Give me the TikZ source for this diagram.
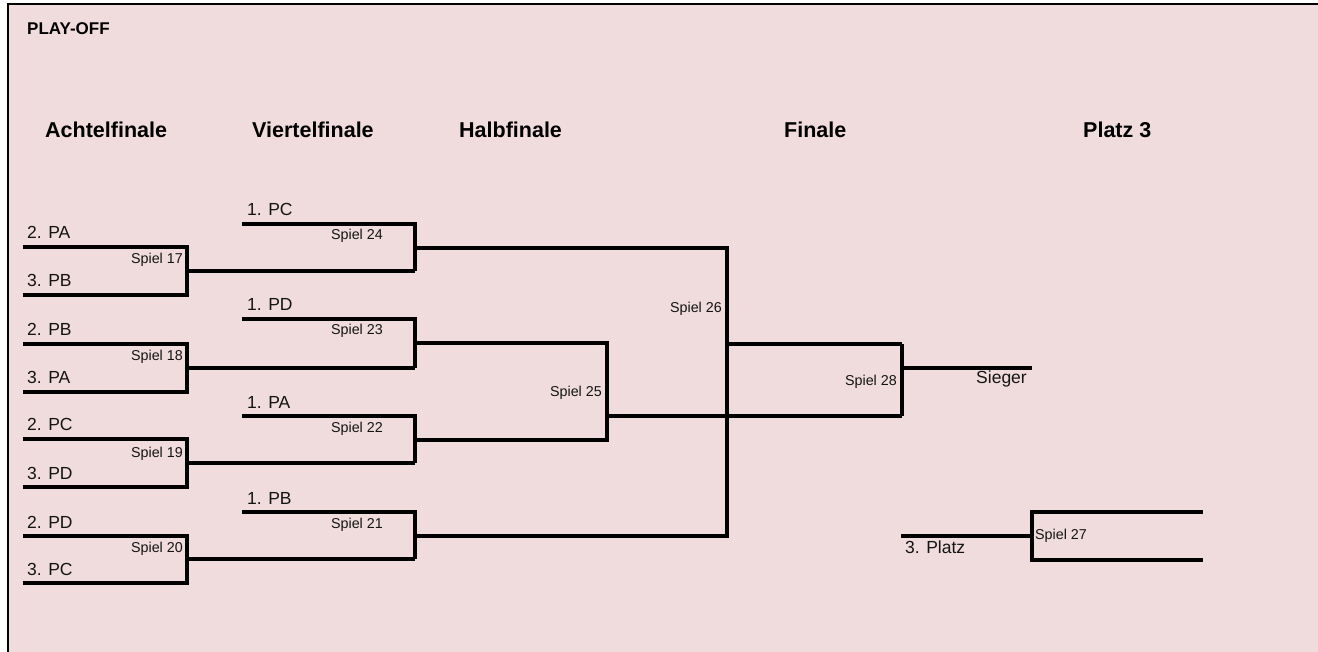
\documentclass[tikz,border=0pt]{standalone}
\usepackage{fontspec}
\setmainfont{Liberation Sans}
\definecolor{bgpink}{RGB}{240,220,220}
\definecolor{ink}{RGB}{20,20,20}
\begin{document}
\begin{tikzpicture}[x=1pt,y=-1pt,
  bline/.style={line width=3.4pt,line cap=butt,line join=miter},
  frame/.style={line width=2.2pt},
  team/.style={inner sep=0pt,text=ink,font=\fontsize{17.5}{20}\selectfont},
  game/.style={inner sep=0pt,text=ink,font=\fontsize{14.3}{16}\selectfont},
  head/.style={inner sep=0pt,anchor=base west,font=\fontsize{21.5}{24}\selectfont\bfseries},
  ttl/.style={inner sep=0pt,anchor=base west,font=\fontsize{17}{20}\selectfont\bfseries}]
\useasboundingbox (0,0) rectangle (1318,652);
\fill[white] (0,0) rectangle (1318,652);
\fill[bgpink] (8,4) rectangle (1318,652);
\draw[frame] (8,652) -- (8,4) -- (1318,4);

% titles
\node[ttl] (title) at (27,35) {PLAY-OFF};
\node[head] (h1) at (45,138) {Achtelfinale};
\node[head] (h2) at (252,138) {Viertelfinale};
\node[head] (h3) at (459,138) {Halbfinale};
\node[head] (h4) at (784,138) {Finale};
\node[head] (h5) at (1083,138) {Platz 3};

% Achtelfinale coordinates
\foreach \n/\ya/\yb/\ym in {17/247/295/271, 18/344/392/368, 19/439/487/463, 20/536/583/559}{
  \coordinate (a\n t) at (23,\ya);
  \coordinate (a\n b) at (23,\yb);
  \coordinate (c\n t) at (187,\ya);
  \coordinate (c\n b) at (187,\yb);
  \coordinate (m\n) at (187,\ym);
}
% Viertelfinale coordinates
\foreach \n/\yt/\yb/\yo in {24/224/271/248, 23/319/368/343, 22/416/463/440, 21/512/559/536}{
  \coordinate (v\n t) at (242,\yt);
  \coordinate (w\n t) at (415,\yt);
  \coordinate (w\n b) at (415,\yb);
  \coordinate (o\n) at (415,\yo);
}
\coordinate (h25t) at (607,343);
\coordinate (h25b) at (607,440);
\coordinate (h25o) at (607,416);
\coordinate (h26t) at (727,248);
\coordinate (h26b) at (727,536);
\coordinate (h26o) at (727,344);
\coordinate (f28t) at (902,344);
\coordinate (f28b) at (902,416);
\coordinate (f28o) at (902,368);
\coordinate (sieg) at (1032,368);
\coordinate (p3s) at (901,536);
\coordinate (p27m) at (1032,536);
\coordinate (p27t) at (1032,512);
\coordinate (p27b) at (1032,560);
\coordinate (p27te) at (1203,512);
\coordinate (p27be) at (1203,560);

% Achtelfinale brackets
\draw[bline] (a17t) -- (c17t) -- (c17b) -- (a17b);
\draw[bline] (a18t) -- (c18t) -- (c18b) -- (a18b);
\draw[bline] (a19t) -- (c19t) -- (c19b) -- (a19b);
\draw[bline] (a20t) -- (c20t) -- (c20b) -- (a20b);
\draw[bline] (m17) -- (w24b);
\draw[bline] (m18) -- (w23b);
\draw[bline] (m19) -- (w22b);
\draw[bline] (m20) -- (w21b);
% Viertelfinale brackets
\draw[bline] (v24t) -- (w24t) -- (w24b);
\draw[bline] (v23t) -- (w23t) -- (w23b);
\draw[bline] (v22t) -- (w22t) -- (w22b);
\draw[bline] (v21t) -- (w21t) -- (w21b);
% Halbfinale
\draw[bline] (o24) -- (h26t) -- (h26b) -- (o21);
\draw[bline] (o23) -- (h25t) -- (h25b) -- (o22);
\draw[bline] (h25o) -- (f28b);
\draw[bline] (h26o) -- (f28t);
% Finale
\draw[bline] (f28t) -- (f28b);
\draw[bline] (f28o) -- (sieg);
% Platz 3
\draw[bline] (p3s) -- (p27m);
\draw[bline] (p27te) -- (p27t) -- (p27b) -- (p27be);

% team labels
\node[team,anchor=base west] (t1) at (27,239) {2. PA};
\node[team,anchor=base west] (t2) at (27,287) {3. PB};
\node[team,anchor=base west] (t3) at (27,336) {2. PB};
\node[team,anchor=base west] (t4) at (27,384) {3. PA};
\node[team,anchor=base west] (t5) at (27,431) {2. PC};
\node[team,anchor=base west] (t6) at (27,479) {3. PD};
\node[team,anchor=base west] (t7) at (27,528) {2. PD};
\node[team,anchor=base west] (t8) at (27,575) {3. PC};
\node[team,anchor=base west] (u1) at (247,216) {1. PC};
\node[team,anchor=base west] (u2) at (247,311) {1. PD};
\node[team,anchor=base west] (u3) at (247,408) {1. PA};
\node[team,anchor=base west] (u4) at (247,504) {1. PB};
\node[team,anchor=base east] (sieger) at (1027,384) {Sieger};
\node[team,anchor=base west] (platz) at (905,553) {3. Platz};

% game labels
\node[game,anchor=base east] (g17) at (183,264) {Spiel 17};
\node[game,anchor=base east] (g18) at (183,361) {Spiel 18};
\node[game,anchor=base east] (g19) at (183,457) {Spiel 19};
\node[game,anchor=base east] (g20) at (183,552) {Spiel 20};
\node[game,anchor=base east] (g24) at (383,240) {Spiel 24};
\node[game,anchor=base east] (g23) at (383,335) {Spiel 23};
\node[game,anchor=base east] (g22) at (383,432) {Spiel 22};
\node[game,anchor=base east] (g21) at (383,528) {Spiel 21};
\node[game,anchor=base east] (g25) at (602,396) {Spiel 25};
\node[game,anchor=base east] (g26) at (722,313) {Spiel 26};
\node[game,anchor=base east] (g28) at (897,385) {Spiel 28};
\node[game,anchor=base west] (g27) at (1035,539) {Spiel 27};
\end{tikzpicture}
\end{document}
